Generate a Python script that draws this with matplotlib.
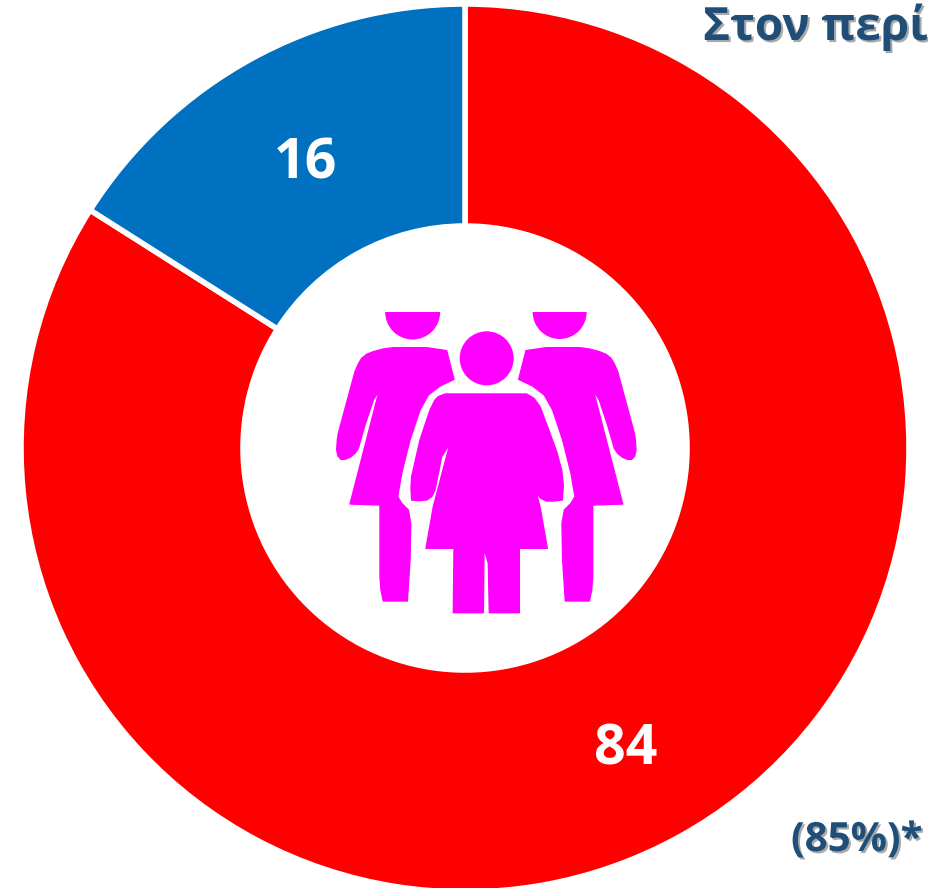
import matplotlib
matplotlib.use('Agg')
import matplotlib.pyplot as plt
import matplotlib.patheffects as pe
from matplotlib.patches import Polygon, Circle, Wedge

# data
labels = ['84', '16']
values = [84, 16]
colors = ['#FF0000', '#0070C0']
title = 'Στον περί'
note = '(85%)*'

W, H = 929, 888
plt.rcParams['font.family'] = ['Open Sans', 'DejaVu Sans']

fig = plt.figure(figsize=(W / 100, H / 100), dpi=100)
ax = fig.add_axes([0, 0, 1, 1])

# donut
R = 444
hole = 222
wedges, _ = ax.pie(values, colors=colors, startangle=90, counterclock=False,
                   center=(465, H - 448), radius=R, frame=True,
                   wedgeprops=dict(width=R - hole, edgecolor='white', linewidth=4))
ax.set_xlim(0, W)
ax.set_ylim(0, H)
ax.set_aspect('equal')
ax.axis('off')


def z2d(p):
    return (330 + p[0] / 3, H - (300 + p[1] / 3))


left_body = [(350, 152), (372, 238), (330, 258), (295, 285), (270, 330), (240, 420),
             (215, 520), (203, 590), (215, 610), (235, 630), (242, 670), (240, 780),
             (232, 903), (160, 903), (153, 870), (150, 830), (150, 615), (60, 612),
             (148, 270), (130, 300), (105, 375), (85, 445), (75, 460), (60, 472), (45, 478),
             (33, 478), (24, 468), (20, 450), (22, 420), (25, 400),
             (75, 215), (85, 192), (95, 175), (110, 163), (130, 155), (160, 147),
             (190, 143), (290, 143)]
right_body = [(938 - x, y) for x, y in left_body]
mid_body = [(345, 282), (590, 282), (612, 295), (630, 320), (660, 400), (680, 455),
            (695, 510), (700, 555), (697, 600), (670, 603), (650, 603), (632, 595),
            (620, 580), (570, 400), (600, 510), (630, 620), (652, 745),
            (568, 745), (568, 938), (478, 938), (475, 790), (462, 745), (460, 938),
            (370, 938), (372, 745), (288, 745), (310, 620), (360, 430), (335, 470),
            (315, 570), (305, 590), (290, 600), (265, 602), (245, 600), (243, 565),
            (245, 530), (270, 420), (300, 330), (315, 300), (325, 290)]
pink = '#FF00FF'
for body in [left_body, right_body, mid_body]:
    ax.add_patch(Polygon([z2d(p) for p in body], closed=True, fc=pink, ec=pink,
                         lw=1, joinstyle='round', zorder=3))
ax.add_patch(Circle(z2d((470, 175)), 27, fc=pink, ec='none', zorder=3))
ax.add_patch(Wedge(z2d((248, 36)), 27.5, 180, 360, fc=pink, ec='none', zorder=3))
ax.add_patch(Wedge(z2d((689, 36)), 27, 180, 360, fc=pink, ec='none', zorder=3))

# value labels
ax.text(305, H - 164, labels[1], color='white', fontsize=40, fontweight='bold',
        ha='center', va='center', zorder=4)
ax.text(626, H - 750, labels[0], color='white', fontsize=40, fontweight='bold',
        ha='center', va='center', zorder=4)

# texts with soft shadow
ax.text(703, H - 40, title, color='#1F4E79', fontsize=33, fontweight='bold',
        ha='left', va='baseline', zorder=4,
        path_effects=[pe.withSimplePatchShadow(offset=(1.5, -1.5), shadow_rgbFace='#555555', alpha=0.5)])
ax.text(791, H - 851, note, color='#1F4E79', fontsize=29, fontweight='bold',
        ha='left', va='baseline', zorder=4,
        path_effects=[pe.withSimplePatchShadow(offset=(1.5, -1.5), shadow_rgbFace='#555555', alpha=0.5)])

fig.savefig('out.png', dpi=100)
